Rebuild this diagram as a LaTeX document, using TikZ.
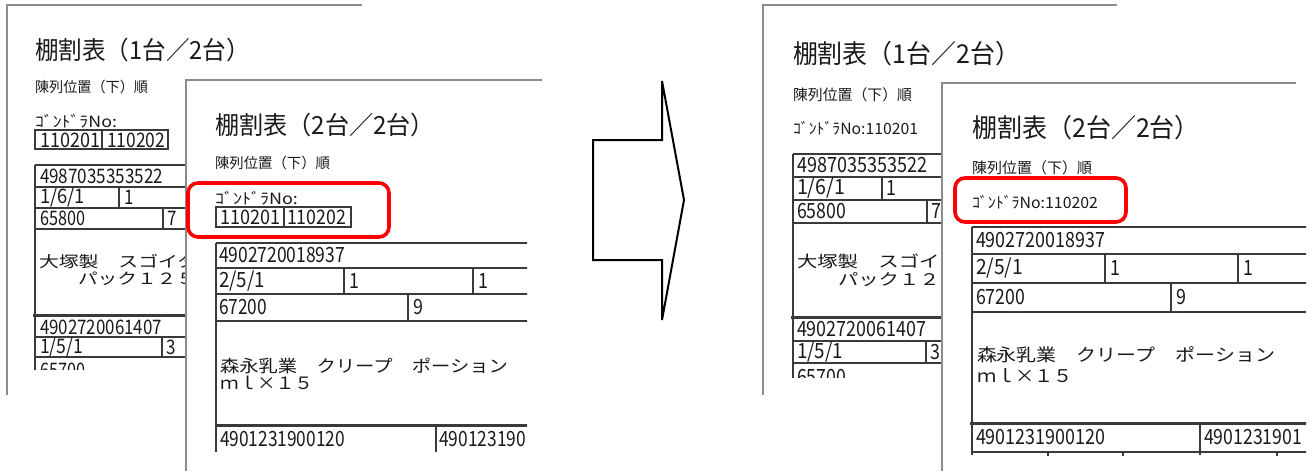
\documentclass[tikz,border=0pt]{standalone}
\usepackage{fontspec}
\usepackage{graphicx}
\newfontfamily\jp{Noto Sans CJK JP}
\definecolor{pageline}{HTML}{8C8C8C}
\definecolor{tline}{HTML}{3A3A3A}
\definecolor{hl}{HTML}{FF0000}
\definecolor{ink}{HTML}{1A1A1A}
\newcommand\tx[6]{\node[txt] (#1) at (#2,#3) {\resizebox{#4pt}{\height}{\fontsize{#5}{#5}\selectfont #6}};}
\newcommand\tc[5]{\node[txt] (#1) at (#2,#3) {\scalebox{0.85}[1]{\fontsize{#4}{#4}\selectfont #5}};}
\begin{document}
\begin{tikzpicture}[x=1pt,y=-1pt,
  txt/.style={anchor=west,inner sep=0pt,outer sep=0pt,text=ink,font=\jp},
  pg/.style={draw=pageline,line width=2pt},
  tl/.style={draw=tline,line width=1.6pt},
  thk/.style={draw=tline,line width=3pt},
  hlbox/.style={draw=hl,line width=3.6pt,rounded corners=10pt},
  arr/.style={draw=black,line width=2pt,line join=miter}]
\useasboundingbox (0,0) rectangle (1313,471);
\fill[white] (0,0) rectangle (1313,471);

% ================= LEFT BACK PAGE =================
\draw[pg] (7,395) -- (7,5) -- (362,5);
\tx{lbt}{35}{50}{215}{25}{棚割表（1台／2台）}
\tx{lbs}{35}{87}{113}{14.5}{陳列位置（下）順}
\tx{lbg}{35}{121}{82}{15.5}{ｺﾞﾝﾄﾞﾗNo:}
\draw[tl] (35,130) rectangle (168,149) (102,130) -- (102,149);
\tx{lbb1}{40}{140}{60}{20}{110201}
\tx{lbb2}{107}{140}{58}{20}{110202}
\begin{scope}
\clip (0,0) rectangle (186,369);
\draw[tl] (35,165) -- (186,165) (35,187) -- (186,187) (35,208) -- (186,208) (35,229) -- (186,229)
  (35,337) -- (186,337) (35,357) -- (186,357);
\draw[thk] (33,315) -- (186,315);
\draw[tl] (35,165) -- (35,372) (119,187) -- (119,208) (163,208) -- (163,229) (162,337) -- (162,357);
\tx{lbr1}{40}{176}{123}{20}{4987035353522}
\tx{lbr2}{40}{197.5}{45}{20}{1/6/1}
\tc{lbr2b}{124}{197.5}{20}{1}
\tx{lbr3}{40}{218.5}{45}{20}{65800}
\tc{lbr3b}{167}{218.5}{20}{7}
\tx{lbn1}{39}{262}{158}{15.5}{大塚製　スゴイタ}
\tx{lbn2}{78}{279}{118}{15.5}{パック１２５}
\tx{lbr4}{40}{327}{122}{20}{4902720061407}
\tx{lbr5}{40}{347}{43}{20}{1/5/1}
\tc{lbr5b}{166}{347}{20}{3}
\tx{lbr6}{40}{370}{45}{20}{65700}
\end{scope}

% ================= LEFT FRONT PAGE =================
\fill[white] (186,80) rectangle (560,471);
\draw[pg] (186,471) -- (186,80) -- (542,80);
\tx{lft}{215}{125}{220}{25}{棚割表（2台／2台）}
\tx{lfs}{215}{163}{115}{14.5}{陳列位置（下）順}
\tx{lfg}{215}{198}{83}{15.5}{ｺﾞﾝﾄﾞﾗNo:}
\draw[tl] (216,207) rectangle (351,227) (284,207) -- (284,227);
\tx{lfb1}{220}{217}{60}{20}{110201}
\tx{lfb2}{287}{217}{59}{20}{110202}
\begin{scope}
\clip (186,80) rectangle (527,471);
\draw[tl] (216,243) -- (530,243) (216,268) -- (530,268) (216,294) -- (530,294) (216,321) -- (530,321);
\draw[thk] (216,425) -- (530,425);
\draw[tl] (216,243) -- (216,452) (344,268) -- (344,294) (473,268) -- (473,294) (408,294) -- (408,321) (436,425) -- (436,452);
\tx{lfr1}{219}{255.5}{126}{21}{4902720018937}
\tx{lfr2}{219}{281}{46}{21}{2/5/1}
\tc{lfr2b}{349}{281}{21}{1}
\tc{lfr2c}{478}{281}{21}{1}
\tx{lfr3}{219}{307.5}{48}{21}{67200}
\tc{lfr3b}{413}{307.5}{21}{9}
\tx{lfn1}{220}{366}{288}{17}{森永乳業　クリープ　ポーション}
\tx{lfn2}{220}{383}{93}{17}{ｍｌ×１５}
\tx{lfr4}{220}{439}{125}{21}{4901231900120}
\tx{lfr4b}{439}{439}{87}{21}{490123190}
\end{scope}

% ================= ARROW =================
\draw[arr] (593,140) -- (662,140) -- (662,81) -- (684,200) -- (662,320) -- (662,260) -- (593,260) -- cycle;

% ================= RIGHT BACK PAGE =================
\draw[pg] (763,395) -- (763,5) -- (1117,5);
\tx{rbt}{793}{54}{227}{26}{棚割表（1台／2台）}
\tx{rbs}{793}{95}{119}{15}{陳列位置（下）順}
\tx{rbg}{793}{128}{125}{15.5}{ｺﾞﾝﾄﾞﾗNo:110201}
\begin{scope}
\clip (700,0) rectangle (942,377);
\draw[tl] (793,154) -- (942,154) (793,177) -- (942,177) (793,200) -- (942,200) (793,223) -- (942,223)
  (793,341) -- (942,341) (793,363) -- (942,363);
\draw[thk] (791,317) -- (942,317);
\draw[tl] (793,154) -- (793,380) (882,177) -- (882,200) (927,200) -- (927,223) (926,341) -- (926,363);
\tx{rbr1}{797}{165.5}{130}{21}{4987035353522}
\tx{rbr2}{797}{188.5}{48}{21}{1/6/1}
\tc{rbr2b}{886}{188.5}{21}{1}
\tx{rbr3}{797}{211.5}{49}{21}{65800}
\tc{rbr3b}{931}{211.5}{21}{7}
\tx{rbn1}{797}{261}{162}{16}{大塚製　スゴイタ}
\tx{rbn2}{838}{280}{122}{16}{パック１２５}
\tx{rbr4}{797}{329}{129}{21}{4902720061407}
\tx{rbr5}{797}{352}{46}{21}{1/5/1}
\tc{rbr5b}{930}{352}{21}{3}
\tx{rbr6}{797}{377}{49}{21}{65700}
\end{scope}

% ================= RIGHT FRONT PAGE =================
\fill[white] (942,83) rectangle (1313,471);
\draw[pg] (942,471) -- (942,83) -- (1296,83);
\tx{rft}{972}{128}{228}{26}{棚割表（2台／2台）}
\tx{rfs}{972}{168}{120}{15}{陳列位置（下）順}
\tx{rfg}{972}{202}{126}{15.5}{ｺﾞﾝﾄﾞﾗNo:110202}
\begin{scope}
\clip (942,83) rectangle (1306,471);
\draw[tl] (972,227) -- (1310,227) (972,254) -- (1310,254) (972,283) -- (1310,283) (972,312) -- (1310,312);
\draw[thk] (970,423) -- (1310,423);
\draw[tl] (972,452) -- (1310,452);
\draw[tl] (972,227) -- (972,455) (1105,254) -- (1105,283) (1238,254) -- (1238,283) (1171,283) -- (1171,312) (1200,423) -- (1200,455)
  (1048,452) -- (1048,456) (1123,452) -- (1123,456) (1277,452) -- (1277,456);
\tx{rfr1}{976}{240.5}{129}{21}{4902720018937}
\tx{rfr2}{976}{268.5}{47}{21}{2/5/1}
\tc{rfr2b}{1110}{268.5}{21}{1}
\tc{rfr2c}{1243}{268.5}{21}{1}
\tx{rfr3}{976}{297.5}{49}{21}{67200}
\tc{rfr3b}{1176}{297.5}{21}{9}
\tx{rfn1}{977}{355}{298}{17.5}{森永乳業　クリープ　ポーション}
\tx{rfn2}{977}{376}{96}{17.5}{ｍｌ×１５}
\tx{rfr4}{976}{437.5}{129}{21}{4901231900120}
\tx{rfr4b}{1204}{437.5}{98}{21}{4901231901}
\end{scope}

% ================= HIGHLIGHTS =================
\draw[hlbox] (188,183) rectangle (389,237);
\draw[hlbox] (955,178) rectangle (1126,222);
\end{tikzpicture}
\end{document}
